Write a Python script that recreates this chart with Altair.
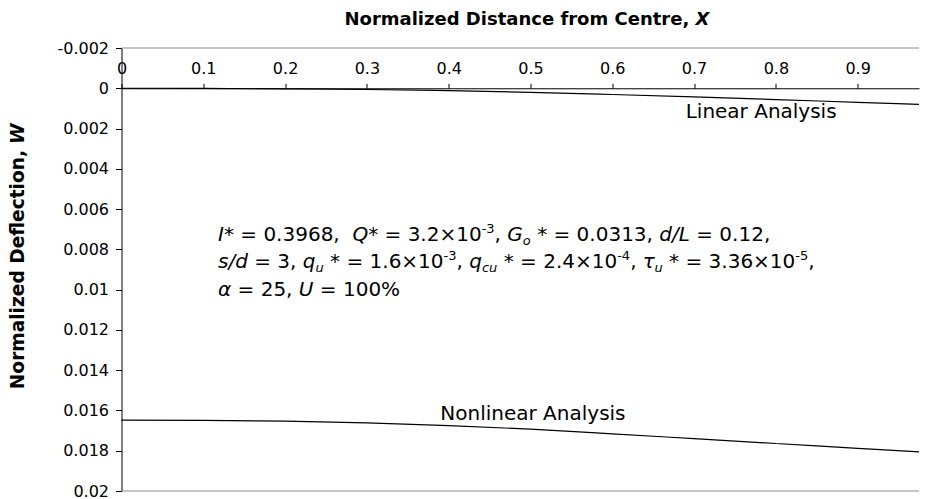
import altair as alt
import pandas as pd

# ---------------- values ----------------
x_positions = [0.0, 0.1, 0.2, 0.3, 0.4, 0.5, 0.6, 0.7, 0.8, 0.9, 0.975]
w_linear = [0.0, 0.00001, 0.00003, 0.00006, 0.00012, 0.0002, 0.00031, 0.00043, 0.00056, 0.0007, 0.0008]
w_nonlinear = [0.01648, 0.01649, 0.01653, 0.01662, 0.01675, 0.01693, 0.01716, 0.0174, 0.01764, 0.01788, 0.01806]
series_names = ["Linear Analysis", "Nonlinear Analysis"]

x_tick_values = [0.0, 0.1, 0.2, 0.3, 0.4, 0.5, 0.6, 0.7, 0.8, 0.9]
y_tick_values = [-0.002, 0.0, 0.002, 0.004, 0.006, 0.008, 0.01, 0.012, 0.014, 0.016, 0.018, 0.02]
x_domain = [0.0, 0.975]
y_domain = [-0.002, 0.02]

x_title_main = "Normalized Distance from Centre,"
x_title_var = "X"
y_title_main = "Normalized Deflection,"
y_title_var = "W"

# annotation text: (text, style) with style n=normal, i=italic, sub, sup
note_line1 = [("I*", "i"), (" = 0.3968,  ", "n"), ("Q*", "i"), (" = 3.2×10", "n"), ("-3", "sup"),
              (", ", "n"), ("G", "i"), ("o", "sub"), (" * = 0.0313, ", "n"), ("d/L", "i"), (" = 0.12,", "n")]
note_line2 = [("s/d", "i"), (" = 3, ", "n"), ("q", "i"), ("u", "sub"), (" * = 1.6×10", "n"), ("-3", "sup"),
              (", ", "n"), ("q", "i"), ("cu", "sub"), (" * = 2.4×10", "n"), ("-4", "sup"), (", ", "n"),
              ("τ", "i"), ("u", "sub"), (" * = 3.36×10", "n"), ("-5", "sup"), (",", "n")]
note_line3 = [("α", "i"), (" = 25, ", "n"), ("U", "i"), (" = 100%", "n")]
note_lines = [note_line1, note_line2, note_line3]

# ---------------- layout ----------------
PLOT_W = 797.5
PLOT_H = 443.0
FONT = "DejaVu Sans"
NOTE_SIZE = 20
SMALL_SIZE = 13
TITLE_SIZE = 18

# DejaVu Sans advance widths (em) for width chaining of the annotation segments
EM = {" ": .318, "*": .5, "%": .95, ",": .318, "-": .361, ".": .318, "/": .337, "=": .838, "×": .838,
      "G": .775, "I": .295, "L": .557, "Q": .787, "U": .732, "c": .55, "d": .635, "o": .612, "q": .635,
      "s": .521, "u": .634, "α": .659, "τ": .582}
for dgt in "0123456789":
    EM[dgt] = .636


def text_w(s, size):
    return sum(EM.get(ch, .6) for ch in s) * size


def px_to_x(px):
    return x_domain[0] + px / PLOT_W * (x_domain[1] - x_domain[0])


def py_to_w(py):
    return y_domain[0] + py / PLOT_H * (y_domain[1] - y_domain[0])


# ---------------- tables ----------------
curves = pd.DataFrame({
    "X": x_positions * 2,
    "W": w_linear + w_nonlinear,
    "series": [series_names[0]] * len(x_positions) + [series_names[1]] * len(x_positions),
})

rows = []
for li, segs in enumerate(note_lines):
    cx = 96.5
    base = 192.5 + li * 27.5
    for txt, sty in segs:
        size = SMALL_SIZE if sty in ("sub", "sup") else NOTE_SIZE
        lead = len(txt) - len(txt.lstrip(" "))
        shown = txt.strip(" ")
        x0 = cx + lead * EM[" "] * size
        y0 = base + (4 if sty == "sub" else (-8 if sty == "sup" else 0))
        rows.append({"X": px_to_x(x0), "W": py_to_w(y0), "text": shown, "style": sty})
        cx += text_w(txt, size)
notes = pd.DataFrame(rows)

curve_labels = pd.DataFrame({
    "X": [0.782, 0.503],
    "W": [0.00118, 0.01618],
    "text": series_names,
})

borders = pd.DataFrame({"W": [y_domain[0], y_domain[1]]})

# ---------------- encodings ----------------
x_enc = alt.X("X:Q", title=None,
              scale=alt.Scale(domain=x_domain, nice=False, zero=False),
              axis=alt.Axis(orient="top", offset=-40.27, values=x_tick_values,
                            labelExpr="format(datum.value, '.1~f')",
                            grid=False, domainColor="black", tickColor="black", tickSize=5,
                            labelPadding=7, labelFont=FONT, labelFontSize=16, labelColor="black",
                            labelFlush=False, labelOverlap=False, domainWidth=1, tickWidth=1))
y_enc = alt.Y("W:Q", title=None,
              scale=alt.Scale(domain=y_domain, reverse=True, nice=False, zero=False),
              axis=alt.Axis(orient="left", values=y_tick_values,
                            labelExpr="datum.value < 0 ? '-' + format(-datum.value, '.3~f') : format(datum.value, '.3~f')",
                            grid=False, domainColor="black", tickColor="black", tickSize=6,
                            labelPadding=7, labelFont=FONT, labelFontSize=16, labelColor="black",
                            labelFlush=False, labelOverlap=False, domainWidth=1, tickWidth=1))

border_layer = alt.Chart(borders).mark_rule(color="#8c8c8c", strokeWidth=1).encode(
    y=y_enc, x=alt.value(0), x2=alt.value(PLOT_W))

lines = alt.Chart(curves).mark_line(color="black", strokeWidth=1.2, interpolate="monotone").encode(
    x=x_enc, y=y_enc, detail="series:N")

labels = alt.Chart(curve_labels).mark_text(font=FONT, fontSize=20, color="black",
                                           align="center", baseline="middle").encode(
    x=x_enc, y=y_enc, text="text:N")

note_layers = []
for sty, size, fstyle in [("n", NOTE_SIZE, "normal"), ("i", NOTE_SIZE, "italic"),
                          ("sub", SMALL_SIZE, "italic"), ("sup", SMALL_SIZE, "normal")]:
    note_layers.append(
        alt.Chart(notes[notes["style"] == sty]).mark_text(
            font=FONT, fontSize=size, fontStyle=fstyle, color="black",
            align="left", baseline="alphabetic").encode(x=x_enc, y=y_enc, text="text:N"))

# top title: main part right-aligned, italic variable left-aligned after it, centred near page x 527
TITLE_BOLD_EM = 19.152
title_right = (527 - 121.5) - 20.274 * TITLE_SIZE / 2 + TITLE_BOLD_EM * TITLE_SIZE

title_df = pd.DataFrame({"t": [x_title_main]})
title_var_df = pd.DataFrame({"t": [x_title_var]})
ytitle_df = pd.DataFrame({"t": [y_title_main]})
ytitle_var_df = pd.DataFrame({"t": [y_title_var]})

x_title = alt.Chart(title_df).mark_text(font=FONT, fontSize=TITLE_SIZE, fontWeight="bold", color="black",
                                         align="right", baseline="alphabetic").encode(
    text="t:N", x=alt.value(title_right), y=alt.value(-23))
x_title_v = alt.Chart(title_var_df).mark_text(font=FONT, fontSize=TITLE_SIZE, fontWeight="bold",
                                               fontStyle="italic", color="black",
                                               align="left", baseline="alphabetic").encode(
    text="t:N", x=alt.value(title_right + 0.348 * TITLE_SIZE), y=alt.value(-23))
y_title = alt.Chart(ytitle_df).mark_text(font=FONT, fontSize=18.6, fontWeight="bold", color="black",
                                          align="right", baseline="middle", angle=270).encode(
    text="t:N", x=alt.value(-104), y=alt.value(102))
y_title_v = alt.Chart(ytitle_var_df).mark_text(font=FONT, fontSize=18.6, fontWeight="bold",
                                                fontStyle="italic", color="black",
                                                align="left", baseline="middle", angle=270).encode(
    text="t:N", x=alt.value(-104), y=alt.value(96))

chart = alt.layer(border_layer, lines, labels, *note_layers, x_title, x_title_v, y_title, y_title_v).properties(
    width=PLOT_W, height=PLOT_H,
    autosize=alt.AutoSizeParams(type="none"),
    padding={"left": 113.5, "top": 40, "right": 0.5, "bottom": 10},
    background="white",
).configure_view(stroke=None)

chart.save("out.html", embed_options={"renderer": "svg", "actions": False})
